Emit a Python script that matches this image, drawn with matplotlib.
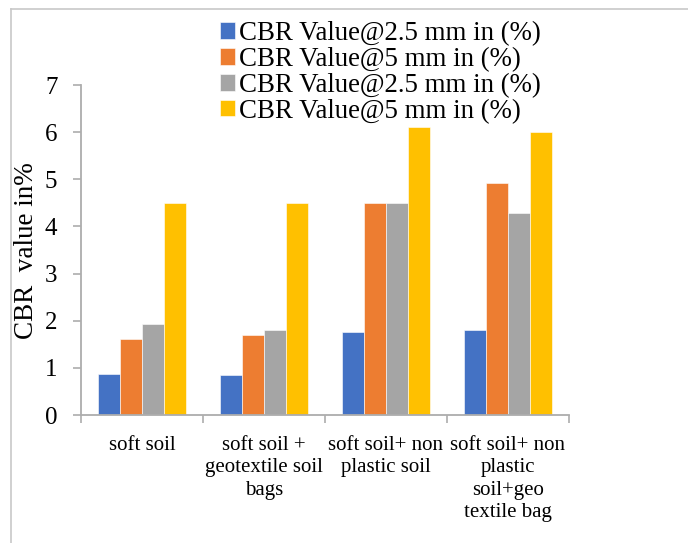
import numpy as np
import matplotlib
matplotlib.use("Agg")
import matplotlib.pyplot as plt
from matplotlib.lines import Line2D

plt.rcParams['font.family'] = ['Liberation Serif', 'DejaVu Serif']

categories = ['soft soil', 'soft soil +\ngeotextile soil\nbags',
              'soft soil+ non\nplastic soil',
              'soft soil+ non\nplastic\nsoil+geo\ntextile bag']
series_names = ['CBR Value@2.5 mm in (%)', 'CBR Value@5 mm in (%)',
                'CBR Value@2.5 mm in (%)', 'CBR Value@5 mm in (%)']
cbr_25_a = [0.87, 0.85, 1.76, 1.81]
cbr_5_a = [1.62, 1.70, 4.50, 4.93]
cbr_25_b = [1.92, 1.81, 4.50, 4.28]
cbr_5_b = [4.50, 4.50, 6.10, 6.00]
colors = ['#4472C4', '#ED7D31', '#A5A5A5', '#FFC000']

fig = plt.figure(figsize=(6.88, 5.43), dpi=100)
ax = fig.add_axes([81/688, 1-415/543, 488/688, 330/543])

x = np.arange(len(categories))
w = 0.18
for i, vals in enumerate([cbr_25_a, cbr_5_a, cbr_25_b, cbr_5_b]):
    ax.bar(x + (i - 1.5) * w, vals, w, color=colors[i], label=series_names[i],
           edgecolor='white', linewidth=0.4)

ax.set_xlim(-0.5, 3.5)
ax.set_ylim(0, 7)
ax.set_yticks(range(0, 8))

# category boundaries as ticks, labels in the middle
ax.set_xticks(np.arange(-0.5, 4, 1))
ax.set_xticklabels([])
ax.set_xticks(x, minor=True)
ax.set_xticklabels(categories, minor=True, fontsize=15, linespacing=1.25)
ax.tick_params(axis='x', which='minor', length=0, pad=15)
ax.tick_params(axis='x', which='major', length=6, width=1.2, color='#ADADAD')
ax.tick_params(axis='y', length=6, width=1.2, color='#ADADAD', labelsize=18, pad=11)

for s in ['top', 'right']:
    ax.spines[s].set_visible(False)
for s in ['left', 'bottom']:
    ax.spines[s].set_color('#ADADAD')
    ax.spines[s].set_linewidth(1.3)

fig.text(27/688, 1-251/543, 'CBR  value in%', rotation=90, ha='center',
         va='center', fontsize=19.5)

ax.legend(loc='upper left', bbox_to_anchor=(220/688, 1-21/543),
          bbox_transform=fig.transFigure, frameon=False, fontsize=19.4,
          handlelength=0.55, handleheight=0.55, handletextpad=0.15,
          labelspacing=0.035, borderpad=0, borderaxespad=0)

# outer frame lines
fig.add_artist(Line2D([11/688, 11/688], [0, 1-9/543], transform=fig.transFigure,
                      color='#C8C8C8', linewidth=1.2))
fig.add_artist(Line2D([11/688, 1], [1-9/543, 1-9/543], transform=fig.transFigure,
                      color='#C8C8C8', linewidth=1.2))

fig.savefig('out.png', dpi=100)
